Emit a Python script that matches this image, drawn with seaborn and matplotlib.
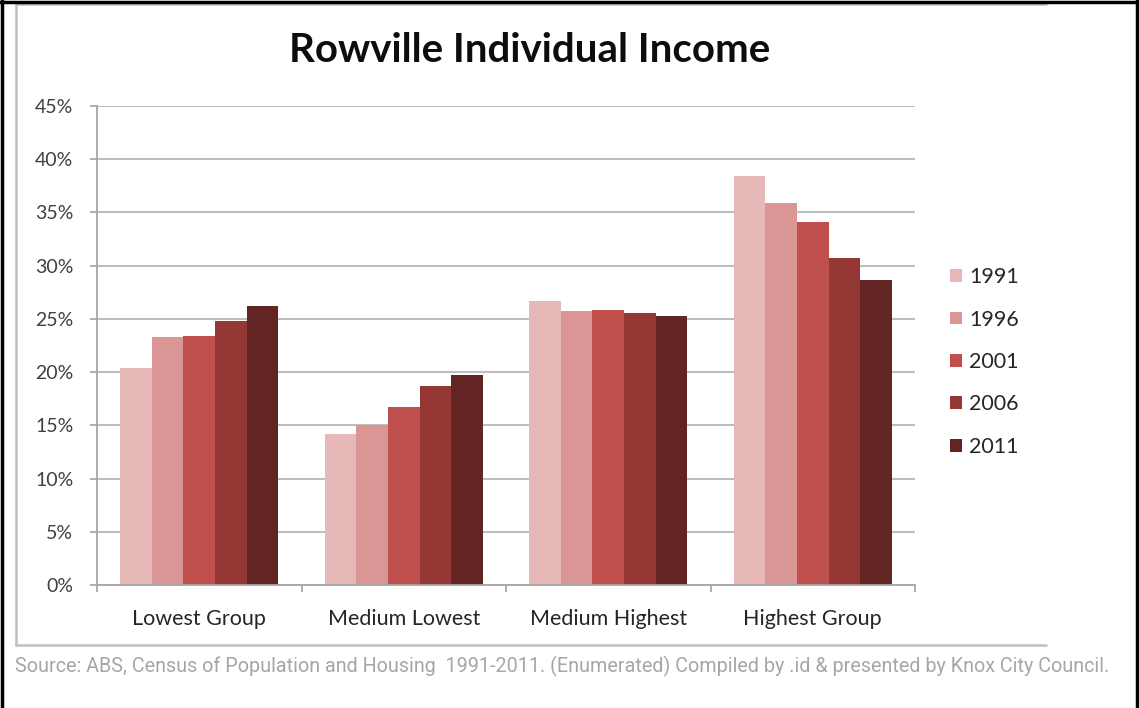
import matplotlib
matplotlib.use("Agg")
import matplotlib.pyplot as plt
from matplotlib.lines import Line2D
from matplotlib.patches import Patch
from matplotlib.ticker import PercentFormatter, MultipleLocator, FixedLocator
import seaborn as sns
import pandas as pd

# Income groups and census years
groups = ["Lowest Group", "Medium Lowest", "Medium Highest", "Highest Group"]
years = ["1991", "1996", "2001", "2006", "2011"]

# Share of individuals per income group (%), one list per census year
share_1991 = [20.4, 14.2, 26.7, 38.4]
share_1996 = [23.3, 15.0, 25.7, 35.9]
share_2001 = [23.4, 16.7, 25.8, 34.1]
share_2006 = [24.8, 18.7, 25.6, 30.7]
share_2011 = [26.2, 19.7, 25.3, 28.7]

year_colors = ["#E6B9B8", "#D99694", "#C0504D", "#953735", "#632523"]

series = [share_1991, share_1996, share_2001, share_2006, share_2011]
df = pd.DataFrame(
    [(g, y, v) for y, vals in zip(years, series) for g, v in zip(groups, vals)],
    columns=["group", "year", "share"],
)

sns.set_theme(style="white")
plt.rcParams["font.family"] = ["Lato", "DejaVu Sans"]

W, H = 1139, 708
fig = plt.figure(figsize=(W / 100, H / 100), dpi=100)
fig.patch.set_facecolor("white")

ax = fig.add_axes([97 / W, 1 - 585 / H, (915 - 97) / W, (585 - 106) / H])
sns.barplot(
    data=df, x="group", y="share", hue="year", order=groups, hue_order=years,
    palette=year_colors, width=0.773, saturation=1, linewidth=0, ax=ax,
    legend=False, errorbar=None,
)

ax.set_ylim(0, 45)
ax.set_xlim(-0.5, len(groups) - 0.5)
ax.yaxis.set_major_locator(MultipleLocator(5))
ax.yaxis.set_major_formatter(PercentFormatter(decimals=0))
ax.set_axisbelow(True)
ax.grid(axis="y", color="#BEBEBE", linewidth=1.5)
ax.set_xlabel("")
ax.set_ylabel("")

for side in ["top", "right"]:
    ax.spines[side].set_visible(False)
for side in ["left", "bottom"]:
    ax.spines[side].set_color("#A6A6A6")
    ax.spines[side].set_linewidth(1.3)

ax.tick_params(axis="y", which="major", left=True, length=5, width=1.3,
               color="#A6A6A6", labelsize=14, labelcolor="#404040", pad=12)
ax.tick_params(axis="x", which="major", bottom=False, labelsize=15.5,
               labelcolor="#262626", pad=11)
ax.xaxis.set_minor_locator(FixedLocator([i - 0.5 for i in range(len(groups) + 1)]))
ax.tick_params(axis="x", which="minor", bottom=True, length=5, width=1.3,
               color="#A6A6A6")

fig.suptitle("Rowville Individual Income", x=530 / W, y=1 - 51 / H, va="center",
             fontsize=29, fontweight="bold", color="#0D0D0D")

handles = [Patch(facecolor=c, edgecolor="none") for c in year_colors]
fig.legend(handles, years, loc="center left", bbox_to_anchor=(950 / W, 1 - 362 / H),
           frameon=False, fontsize=15.4, handlelength=0.55, handleheight=0.55,
           handletextpad=0.35, labelspacing=1.05, labelcolor="#262626",
           borderaxespad=0, borderpad=0)

fig.text(15 / W, 1 - 666 / H,
         "Source: ABS, Census of Population and Housing  1991-2011. (Enumerated) "
         "Compiled by .id & presented by Knox City Council.",
         family=["Roboto", "DejaVu Sans"], fontsize=14.2,
         color="#A6A6A6", va="center", ha="left")

# Chart frame and outer border
gray = "#BFBFBF"
fig.add_artist(Line2D([16 / W, 16 / W], [1 - 4 / H, 1 - 645 / H], color=gray, lw=1.8))
fig.add_artist(Line2D([16 / W, 1046 / W], [1 - 4 / H, 1 - 4 / H], color=gray, lw=1.8))
fig.add_artist(Line2D([16 / W, 1046 / W], [1 - 645 / H, 1 - 645 / H], color=gray, lw=1.8))
fig.add_artist(Line2D([1.5 / W, 1.5 / W], [0, 1], color="black", lw=2.5))
fig.add_artist(Line2D([0, 1], [1 - 2 / H, 1 - 2 / H], color="black", lw=2.5))
fig.add_artist(Line2D([1136.5 / W, 1136.5 / W], [0, 1], color="black", lw=2.5))

fig.savefig("out.png", dpi=100, facecolor="white")
